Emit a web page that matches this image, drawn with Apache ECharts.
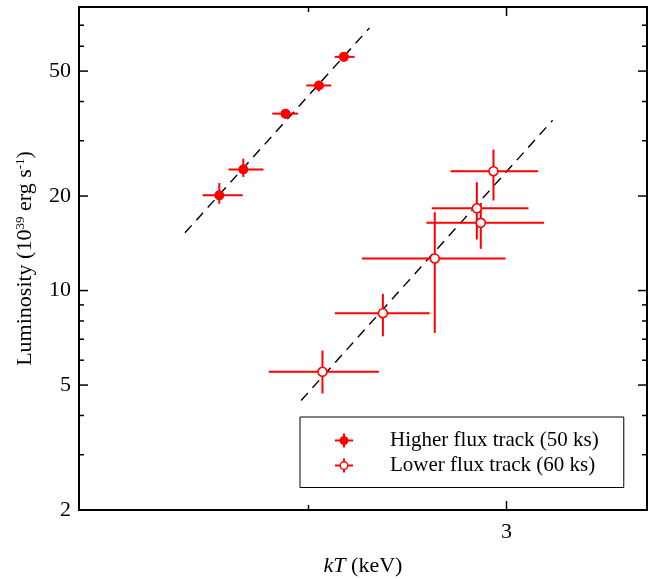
<!DOCTYPE html>
<html><head><meta charset="utf-8">
<script src="https://cdn.jsdelivr.net/npm/echarts@6/dist/echarts.min.js"></script>
<style>html,body{margin:0;padding:0;background:#fff}#c{width:660px;height:579px}</style>
</head><body><div id="c"></div>
<script>
// Higher flux track (50 ks)
const kTHigh   = [1.666, 1.750, 1.908, 2.043, 2.150];
const kTHighLo = [1.610, 1.698, 1.857, 1.991, 2.110];
const kTHighHi = [1.748, 1.824, 1.958, 2.095, 2.198];
const LHigh    = [20.1, 24.3, 36.6, 45.0, 55.5];
const LHighLo  = [18.9, 23.0, 35.2, 43.1, 53.6];
const LHighHi  = [22.0, 26.3, 37.9, 46.5, 57.4];
// Lower flux track (60 ks)
const kTLow    = [2.058, 2.329, 2.590, 2.823, 2.846, 2.921];
const kTLowLo  = [1.844, 2.111, 2.231, 2.574, 2.546, 2.675];
const kTLowHi  = [2.310, 2.563, 2.994, 3.138, 3.240, 3.201];
const LLow     = [5.51, 8.47, 12.65, 18.28, 16.43, 23.99];
const LLowLo   = [4.70, 7.15, 7.33, 14.54, 13.58, 19.35];
const LLowHi   = [6.44, 9.76, 17.76, 22.13, 19.02, 28.12];
// dashed fit lines
const fitHighKT = [1.553, 2.266];
const fitHighL  = [15.27, 68.65];
const fitLowKT  = [1.970, 3.297];
const fitLowL   = [4.465, 34.86];
// axes
const xRange = [1.25, 4.0];
const yRange = [2, 80];
const xMajorTicks = [3];
const xMinorTicks = [2];
const yMajorTicks = [2, 5, 10, 20, 50];
const yMinorTicks = [3, 4, 6, 7, 8, 9, 30, 40, 60, 70];
const nameHigh = 'Higher flux track (50 ks)';
const nameLow = 'Lower flux track (60 ks)';

const FONT = '"Liberation Serif","Times New Roman",serif';
const RED = '#ff0000';
const MAJ = 9, MIN = 5;

const zip = (a, b) => a.map((v, i) => [v, b[i]]);
const errData = (x, y, xl, xh, yl, yh) => x.map((v, i) => [v, y[i], xl[i], xh[i], yl[i], yh[i]]);

function errRender(params, api) {
  const c = api.coord([api.value(0), api.value(1)]);
  const xl = api.coord([api.value(2), api.value(1)]);
  const xh = api.coord([api.value(3), api.value(1)]);
  const yl = api.coord([api.value(0), api.value(4)]);
  const yh = api.coord([api.value(0), api.value(5)]);
  const st = { stroke: RED, lineWidth: 2 };
  return { type: 'group', children: [
    { type: 'line', shape: { x1: xl[0], y1: c[1], x2: xh[0], y2: c[1] }, style: st },
    { type: 'line', shape: { x1: c[0], y1: yh[1], x2: c[0], y2: yl[1] }, style: st }
  ]};
}
const tickStyle = { stroke: '#000', lineWidth: 1.5 };
function yTickRender(len, label) {
  return function (params, api) {
    const v = api.value(1);
    const a = api.coord([xRange[0], v]);
    const b = api.coord([xRange[1], v]);
    const ch = [
      { type: 'line', shape: { x1: a[0], y1: a[1], x2: a[0] + len, y2: a[1] }, style: tickStyle },
      { type: 'line', shape: { x1: b[0], y1: b[1], x2: b[0] - len, y2: b[1] }, style: tickStyle }
    ];
    if (label) ch.push({ type: 'text', style: { text: String(v), x: a[0] - 8, y: a[1], align: 'right', verticalAlign: 'middle', font: '22px ' + FONT, fill: '#000' } });
    return { type: 'group', children: ch };
  };
}
function xTickRender(len, label) {
  return function (params, api) {
    const v = api.value(0);
    const a = api.coord([v, yRange[0]]);
    const b = api.coord([v, yRange[1]]);
    const ch = [
      { type: 'line', shape: { x1: a[0], y1: a[1], x2: a[0], y2: a[1] - len }, style: tickStyle },
      { type: 'line', shape: { x1: b[0], y1: b[1], x2: b[0], y2: b[1] + len }, style: tickStyle }
    ];
    if (label) ch.push({ type: 'text', style: { text: String(v), x: a[0], y: a[1] + 11, align: 'center', verticalAlign: 'top', font: '22px ' + FONT, fill: '#000' } });
    return { type: 'group', children: ch };
  };
}

const ICON_FILLED = 'path://M0,6H18V8H0Z M8,0H10V14H8Z M4.5,7A4.5,4.5,0,1,1,13.5,7A4.5,4.5,0,1,1,4.5,7Z';
const ICON_OPEN = 'path://M0,6H4.6V8H0Z M13.4,6H18V8H13.4Z M8,0H10V2.6H8Z M8,11.4H10V14H8Z M4.5,7A4.5,4.5,0,1,1,13.5,7A4.5,4.5,0,1,1,4.5,7Z M5.9,7A3.1,3.1,0,1,0,12.1,7A3.1,3.1,0,1,0,5.9,7Z';

const chart = echarts.init(document.getElementById('c'));
chart.setOption({
  animation: false,
  backgroundColor: '#fff',
  grid: { left: 79, top: 7, width: 568, height: 503, show: true, borderColor: '#000', borderWidth: 2, backgroundColor: 'transparent', outerBoundsMode: 'none', containLabel: false },
  xAxis: {
    type: 'log', logBase: 10, min: xRange[0], max: xRange[1],
    axisLine: { show: false }, axisTick: { show: false }, axisLabel: { show: false }, splitLine: { show: false },
    name: '{i|kT} (keV)', nameLocation: 'middle', nameGap: 45,
    nameTextStyle: { fontFamily: FONT, fontSize: 22, color: '#000', rich: { i: { fontFamily: FONT, fontSize: 22, fontStyle: 'italic', color: '#000' } } }
  },
  yAxis: {
    type: 'log', logBase: 10, min: yRange[0], max: yRange[1],
    axisLine: { show: false }, axisTick: { show: false }, axisLabel: { show: false }, splitLine: { show: false },
    name: 'Luminosity (10{s|39} erg s{s|-1})', nameLocation: 'middle', nameGap: 42,
    nameTextStyle: { fontFamily: FONT, fontSize: 22, color: '#000', rich: { s: { fontFamily: FONT, fontSize: 13, color: '#000', verticalAlign: 'top', padding: [0, 0, 10, 0] } } }
  },
  legend: {
    left: 300, top: 417, orient: 'vertical', selectedMode: false,
    padding: [13, 25, 11.5, 35], itemWidth: 18, itemHeight: 14, itemGap: 4,
    borderColor: '#000', borderWidth: 1, backgroundColor: '#fff',
    textStyle: { fontFamily: FONT, fontSize: 21, color: '#000', padding: [0, 0, 0, 32] },
    data: [
      { name: nameHigh, icon: ICON_FILLED, itemStyle: { color: RED, borderWidth: 0 } },
      { name: nameLow, icon: ICON_OPEN, itemStyle: { color: RED, borderWidth: 0 } }
    ]
  },
  series: [
    { type: 'line', name: 'fitHigh', data: zip(fitHighKT, fitHighL), symbol: 'none', z: 1, silent: true,
      lineStyle: { color: '#000', width: 1.4, type: [10, 7] } },
    { type: 'line', name: 'fitLow', data: zip(fitLowKT, fitLowL), symbol: 'none', z: 1, silent: true,
      lineStyle: { color: '#000', width: 1.4, type: [10, 7] } },
    { type: 'custom', name: 'errHigh', renderItem: errRender, z: 2, encode: { x: [0, 2, 3], y: [1, 4, 5] },
      data: errData(kTHigh, LHigh, kTHighLo, kTHighHi, LHighLo, LHighHi) },
    { type: 'custom', name: 'errLow', renderItem: errRender, z: 2, encode: { x: [0, 2, 3], y: [1, 4, 5] },
      data: errData(kTLow, LLow, kTLowLo, kTLowHi, LLowLo, LLowHi) },
    { type: 'scatter', name: nameHigh, data: zip(kTHigh, LHigh), symbol: 'circle', symbolSize: 10, z: 3,
      itemStyle: { color: RED, opacity: 1 } },
    { type: 'scatter', name: nameLow, data: zip(kTLow, LLow), symbol: 'circle', symbolSize: 9, z: 3,
      itemStyle: { color: '#fff', borderColor: RED, borderWidth: 1.6, opacity: 1 } },
    { type: 'custom', name: 'yMajor', renderItem: yTickRender(MAJ, true), z: 4, silent: true,
      data: yMajorTicks.map(v => [xRange[0], v]) },
    { type: 'custom', name: 'yMinor', renderItem: yTickRender(MIN, false), z: 4, silent: true,
      data: yMinorTicks.map(v => [xRange[0], v]) },
    { type: 'custom', name: 'xMajor', renderItem: xTickRender(MAJ, true), z: 4, silent: true,
      data: xMajorTicks.map(v => [v, yRange[0]]) },
    { type: 'custom', name: 'xMinor', renderItem: xTickRender(MIN, false), z: 4, silent: true,
      data: xMinorTicks.map(v => [v, yRange[0]]) }
  ]
});
</script>
</body></html>
